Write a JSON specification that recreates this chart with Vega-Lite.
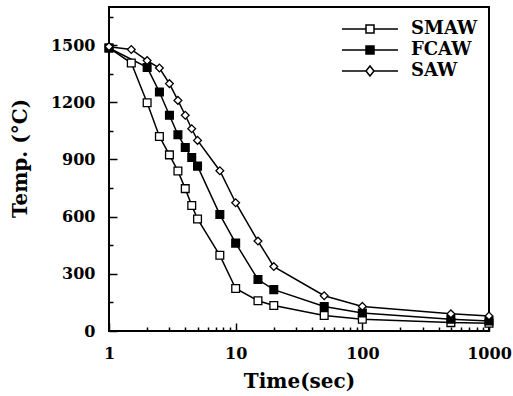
{
  "$schema": "https://vega.github.io/schema/vega-lite/v6.json",
  "autosize": "none",
  "width": 380,
  "height": 324,
  "padding": {"left": 109, "top": 7, "right": 24, "bottom": 65},
  "background": "white",
  "config": {
    "view": {"stroke": "black", "strokeWidth": 2},
    "font": "DejaVu Serif",
    "axis": {"grid": false, "domain": false, "ticks": true, "zindex": 1, "labelFlush": false, "labelFont": "DejaVu Serif", "labelFontWeight": "bold", "labelFontSize": 16, "labelColor": "black", "titleColor": "black", "titleFont": "DejaVu Serif", "titleFontWeight": "bold", "titleFontSize": 20, "tickColor": "black", "tickOpacity": 1, "tickWidth": 1.5}
  },
  "data": {"values": [
    {"t": 1, "temp": 1485, "s": "SMAW"},
    {"t": 1.5, "temp": 1406, "s": "SMAW"},
    {"t": 2, "temp": 1198, "s": "SMAW"},
    {"t": 2.5, "temp": 1021, "s": "SMAW"},
    {"t": 3, "temp": 924, "s": "SMAW"},
    {"t": 3.5, "temp": 839, "s": "SMAW"},
    {"t": 4, "temp": 747, "s": "SMAW"},
    {"t": 4.5, "temp": 659, "s": "SMAW"},
    {"t": 5, "temp": 588, "s": "SMAW"},
    {"t": 7.5, "temp": 397, "s": "SMAW"},
    {"t": 10, "temp": 223, "s": "SMAW"},
    {"t": 15, "temp": 159, "s": "SMAW"},
    {"t": 20, "temp": 134, "s": "SMAW"},
    {"t": 50, "temp": 81, "s": "SMAW"},
    {"t": 100, "temp": 62, "s": "SMAW"},
    {"t": 500, "temp": 44, "s": "SMAW"},
    {"t": 1000, "temp": 41, "s": "SMAW"},
    {"t": 1, "temp": 1485, "s": "FCAW"},
    {"t": 2, "temp": 1383, "s": "FCAW"},
    {"t": 2.5, "temp": 1254, "s": "FCAW"},
    {"t": 3, "temp": 1132, "s": "FCAW"},
    {"t": 3.5, "temp": 1030, "s": "FCAW"},
    {"t": 4, "temp": 963, "s": "FCAW"},
    {"t": 4.5, "temp": 910, "s": "FCAW"},
    {"t": 5, "temp": 865, "s": "FCAW"},
    {"t": 7.5, "temp": 611, "s": "FCAW"},
    {"t": 10, "temp": 461, "s": "FCAW"},
    {"t": 15, "temp": 270, "s": "FCAW"},
    {"t": 20, "temp": 217, "s": "FCAW"},
    {"t": 50, "temp": 129, "s": "FCAW"},
    {"t": 100, "temp": 94, "s": "FCAW"},
    {"t": 500, "temp": 62, "s": "FCAW"},
    {"t": 1000, "temp": 53, "s": "FCAW"},
    {"t": 1, "temp": 1492, "s": "SAW"},
    {"t": 1.5, "temp": 1477, "s": "SAW"},
    {"t": 2, "temp": 1419, "s": "SAW"},
    {"t": 2.5, "temp": 1380, "s": "SAW"},
    {"t": 3, "temp": 1298, "s": "SAW"},
    {"t": 3.5, "temp": 1210, "s": "SAW"},
    {"t": 4, "temp": 1132, "s": "SAW"},
    {"t": 4.5, "temp": 1061, "s": "SAW"},
    {"t": 5, "temp": 1000, "s": "SAW"},
    {"t": 7.5, "temp": 841, "s": "SAW"},
    {"t": 10, "temp": 673, "s": "SAW"},
    {"t": 15, "temp": 472, "s": "SAW"},
    {"t": 20, "temp": 338, "s": "SAW"},
    {"t": 50, "temp": 185, "s": "SAW"},
    {"t": 100, "temp": 129, "s": "SAW"},
    {"t": 500, "temp": 90, "s": "SAW"},
    {"t": 1000, "temp": 79, "s": "SAW"}
  ]},
  "layer": [
    {
      "mark": {"type": "line", "stroke": "black", "strokeWidth": 1.5},
      "encoding": {
        "x": {"field": "t", "type": "quantitative", "scale": {"type": "log", "domain": [1, 1000]},
          "axis": {"orient": "bottom", "values": [2,3,4,5,6,7,8,9,20,30,40,50,60,70,80,90,200,300,400,500,600,700,800,900], "labels": false, "ticks": true, "tickSize": -4, "tickColor": "black", "tickOpacity": 1, "title": null,
            "encode": {"ticks": {"update": {"stroke": {"value": "black"}, "strokeOpacity": {"value": 1}, "strokeWidth": {"value": 1.5}}}}}},
        "y": {"field": "temp", "type": "quantitative", "scale": {"domain": [0, 1700], "nice": false},
          "axis": {"orient": "left", "values": [150,450,750,1050,1350,1650], "labels": false, "ticks": true, "tickSize": -4, "tickColor": "black", "tickOpacity": 1, "title": null,
            "encode": {"ticks": {"update": {"stroke": {"value": "black"}, "strokeOpacity": {"value": 1}, "strokeWidth": {"value": 1.5}}}}}},
        "detail": {"field": "s"}
      }
    },
    {
      "mark": {"type": "point", "filled": true, "stroke": "black", "strokeWidth": 1.3, "size": 60, "opacity": 1},
      "encoding": {
        "x": {"field": "t", "type": "quantitative",
          "axis": {"orient": "bottom", "values": [1, 10, 100, 1000], "ticks": true, "tickSize": -8, "tickColor": "black", "tickOpacity": 1, "labelPadding": 22, "format": "d", "title": "Time(sec)", "titlePadding": 10,
            "encode": {"ticks": {"update": {"stroke": {"value": "black"}, "strokeOpacity": {"value": 1}, "strokeWidth": {"value": 1.5}}}}}},
        "y": {"field": "temp", "type": "quantitative",
          "axis": {"orient": "left", "values": [0, 300, 600, 900, 1200, 1500], "ticks": true, "tickSize": -8, "tickColor": "black", "tickOpacity": 1, "labelPadding": 22, "format": "d", "title": "Temp. (°C)", "titlePadding": 20, "titleY": 151,
            "encode": {"ticks": {"update": {"stroke": {"value": "black"}, "strokeOpacity": {"value": 1}, "strokeWidth": {"value": 1.5}}}}}},
        "shape": {"field": "s", "type": "nominal", "scale": {"domain": ["SMAW", "FCAW", "SAW"], "range": ["square", "square", "diamond"]}, "legend": null},
        "fill": {"field": "s", "type": "nominal", "scale": {"domain": ["SMAW", "FCAW", "SAW"], "range": ["white", "black", "white"]}, "legend": null}
      }
    },
    {
      "transform": [{"filter": "datum.t < 0"}],
      "mark": {"type": "point", "filled": true, "stroke": "black", "strokeWidth": 1.3, "opacity": 1},
      "encoding": {
        "x": {"field": "t", "type": "quantitative", "axis": null},
        "y": {"field": "temp", "type": "quantitative", "axis": null},
        "shape": {"field": "s", "type": "nominal", "title": null,
          "scale": {"domain": ["SMAW", "FCAW", "SAW"], "range": [
            "M-2.8,0H-0.4M0.4,0H2.8M-0.4,-0.4H0.4V0.4H-0.4Z",
            "M-2.8,0H-0.4M0.4,0H2.8M-0.4,-0.4H0.4V0.4H-0.4Z",
            "M-2.8,0H-0.4M0.4,0H2.8M-0.4,0L0,-0.5L0.4,0L0,0.5Z"]},
          "legend": {"orient": "top-right", "offset": 11, "symbolSize": 400, "labelFont": "DejaVu Serif", "labelFontWeight": "bold", "labelFontSize": 18, "labelColor": "black", "rowPadding": 1, "labelOffset": 30,
            "encode": {"symbols": {"update": {"stroke": {"value": "black"}, "strokeWidth": {"value": 1.3}, "opacity": {"value": 1}}}}}},
        "fill": {"field": "s", "type": "nominal", "title": null,
          "scale": {"domain": ["SMAW", "FCAW", "SAW"], "range": ["white", "black", "white"]}}
      }
    }
  ],
  "resolve": {"scale": {"shape": "independent", "fill": "independent"}, "axis": {"x": "independent", "y": "independent"}}
}
